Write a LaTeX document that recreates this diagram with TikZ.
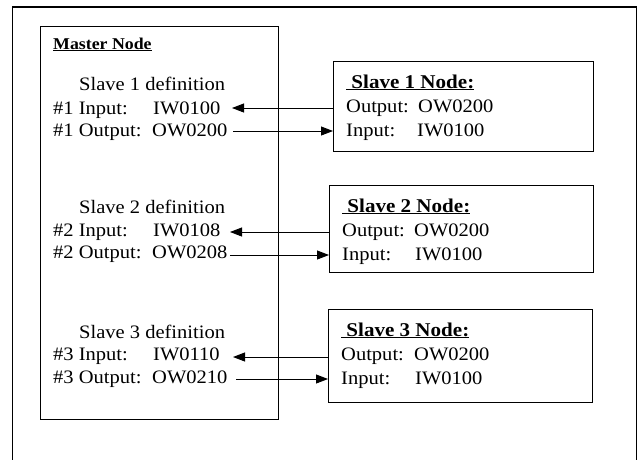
\documentclass[tikz,border=0pt]{standalone}
\usepackage{fontspec}
\setmainfont{Liberation Serif}[FakeStretch=1.08]
\usetikzlibrary{arrows.meta}
\tikzset{
  frame/.style={line width=1.6pt},
  box/.style={draw, line width=1.1pt, anchor=north west, inner sep=0pt},
  txt/.style={anchor=base west, inner sep=0pt, font=\fontsize{19}{22}\selectfont},
  ttl/.style={anchor=base west, inner sep=0pt, font=\fontsize{19.5}{22}\selectfont\bfseries},
  mttl/.style={anchor=base west, inner sep=0pt, font=\fontsize{16.5}{18}\selectfont\bfseries},
  arr/.style={line width=0.9pt, -{Triangle[length=12pt,width=9pt]}},
}
\begin{document}
\begin{tikzpicture}[x=1pt,y=-1pt]
\useasboundingbox (0,0) rectangle (640,459);
% outer frame
\coordinate (fbl) at (12.5,460);
\coordinate (ftl) at (12.5,7);
\coordinate (ftr) at (636.5,7);
\coordinate (fbr) at (636.5,460);
\draw[frame] (fbl) -- (ftl) -- (ftr) -- (fbr);
% boxes
\node[box, minimum width=238pt, minimum height=393pt] (mbox) at (40,26) {};
\node[box, minimum width=260pt, minimum height=90pt] (s1box) at (333,61) {};
\node[box, minimum width=264pt, minimum height=87pt] (s2box) at (329,185) {};
\node[box, minimum width=264pt, minimum height=93pt] (s3box) at (328,309) {};
% master texts
\node[mttl] (mt) at (53,49) {\underline{Master Node}};
\node[txt] (d1) at (79,90) {Slave 1 definition};
\node[txt] (m1i) at (53,114) {\#1 Input:};
\node[txt] (m1iv) at (153,114) {IW0100};
\node[txt] (m1o) at (53,136) {\#1 Output:};
\node[txt] (m1ov) at (152,136) {OW0200};
\node[txt] (d2) at (79,213) {Slave 2 definition};
\node[txt] (m2i) at (53,236) {\#2 Input:};
\node[txt] (m2iv) at (153,236) {IW0108};
\node[txt] (m2o) at (53,258) {\#2 Output:};
\node[txt] (m2ov) at (152,258) {OW0208};
\node[txt] (d3) at (79,338) {Slave 3 definition};
\node[txt] (m3i) at (53,360) {\#3 Input:};
\node[txt] (m3iv) at (153,360) {IW0110};
\node[txt] (m3o) at (53,383) {\#3 Output:};
\node[txt] (m3ov) at (152,383) {OW0210};
% slave texts
\node[ttl] (t1) at (346,88) {\underline{ Slave 1 Node:}};
\node[txt] (s1o) at (346,112) {Output:};
\node[txt] (s1ov) at (418,112) {OW0200};
\node[txt] (s1i) at (346,136) {Input:};
\node[txt] (s1iv) at (417,136) {IW0100};
\node[ttl] (t2) at (342,212) {\underline{ Slave 2 Node:}};
\node[txt] (s2o) at (342,236) {Output:};
\node[txt] (s2ov) at (414,236) {OW0200};
\node[txt] (s2i) at (342,260) {Input:};
\node[txt] (s2iv) at (415,260) {IW0100};
\node[ttl] (t3) at (341,336) {\underline{ Slave 3 Node:}};
\node[txt] (s3o) at (341,360) {Output:};
\node[txt] (s3ov) at (414,360) {OW0200};
\node[txt] (s3i) at (341,384) {Input:};
\node[txt] (s3iv) at (415,384) {IW0100};
% arrow end points
\coordinate (a1) at (232,108);
\coordinate (b1) at (233,131);
\coordinate (a2) at (230,232);
\coordinate (b2) at (230,255);
\coordinate (a3) at (233,357);
\coordinate (b3) at (236,379);
% connectors
\draw[arr] (s1box.west |- a1) -- (a1);
\draw[arr] (b1) -- (s1box.west |- b1);
\draw[arr] (s2box.west |- a2) -- (a2);
\draw[arr] (b2) -- (s2box.west |- b2);
\draw[arr] (s3box.west |- a3) -- (a3);
\draw[arr] (b3) -- (s3box.west |- b3);
\end{tikzpicture}
\end{document}
